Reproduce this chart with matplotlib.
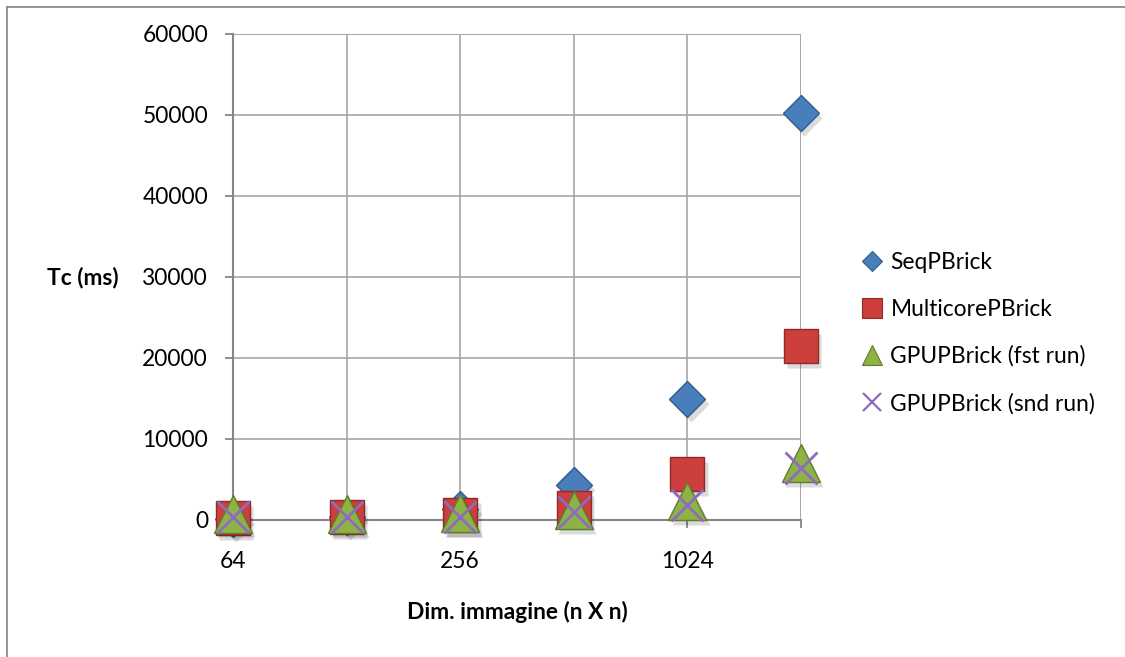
import matplotlib
matplotlib.use("Agg")
import matplotlib.pyplot as plt
from matplotlib.lines import Line2D
from matplotlib.transforms import ScaledTranslation

# Image sizes (n x n) and compute times in ms
sizes = ["64", "128", "256", "512", "1024", "2048"]
seq_pbrick = [100, 350, 1300, 4300, 14900, 50200]
multicore_pbrick = [190, 300, 560, 1400, 5600, 21450]
gpu_fst_run = [740, 740, 800, 1180, 2290, 6980]
gpu_snd_run = [350, 350, 350, 970, 1800, 6370]

series_labels = ["SeqPBrick", "MulticorePBrick", "GPUPBrick (fst run)", "GPUPBrick (snd run)"]
y_ticks = [0, 10000, 20000, 30000, 40000, 50000, 60000]

plt.rcParams["font.family"] = ["Lato", "DejaVu Sans"]

W, H, DPI = 1125, 657, 100
fig = plt.figure(figsize=(W / DPI, H / DPI), dpi=DPI)
fig.patch.set_facecolor("white")

# outer chart frame (left and top edges visible)
fig.add_artist(Line2D([7 / W, 7 / W], [0, 1 - 6.5 / H], transform=fig.transFigure,
                      color="#8c8c8c", lw=1.3))
fig.add_artist(Line2D([7 / W, 1], [1 - 6.5 / H, 1 - 6.5 / H], transform=fig.transFigure,
                      color="#8c8c8c", lw=1.3))

left, right = 233 / W, 801 / W
top, bottom = 1 - 34 / H, 1 - 519.5 / H
ax = fig.add_axes([left, bottom, right - left, top - bottom])

x = list(range(1, len(sizes) + 1))
ax.set_xlim(1, len(sizes))
ax.set_ylim(0, 60000)

grid_c = "#a6a6a6"
axis_c = "#868686"
ax.set_yticks(y_ticks)
ax.set_yticklabels([str(v) for v in y_ticks])
ax.set_xticks(x)
ax.set_xticklabels([s if i % 2 == 0 else "" for i, s in enumerate(sizes)])
ax.grid(True, color=grid_c, lw=1.2, zorder=0)
ax.set_axisbelow(True)
for side in ["top", "right"]:
    ax.spines[side].set_visible(False)
for side in ["left", "bottom"]:
    ax.spines[side].set_color(axis_c)
    ax.spines[side].set_linewidth(1.5)
# right edge and top edge shown by gridlines
ax.axvline(len(sizes), color=grid_c, lw=1.2, zorder=0)
ax.axhline(60000, color=grid_c, lw=1.2, zorder=0)

ax.tick_params(axis="y", direction="out", length=6, width=1.3, color=axis_c,
               pad=12, labelsize=16.4)
ax.tick_params(axis="x", direction="out", length=6, width=1.3, color=axis_c,
               pad=17, labelsize=16.4)

shadow = ax.transData + ScaledTranslation(2.5 / 72, -3.5 / 72, fig.dpi_scale_trans)

styles = [
    dict(marker="D", ms=18, mfc="#4a7ebb", mec="#2c5d96", mew=1.0),
    dict(marker="s", ms=25, mfc="#cc3f3c", mec="#8e2a28", mew=1.0),
    dict(marker="^", ms=27, mfc="#8db346", mec="#5f7d2c", mew=1.0),
    dict(marker="x", ms=23, mec="#8d6bbd", mew=2.0),
]
data = [seq_pbrick, multicore_pbrick, gpu_fst_run, gpu_snd_run]

z = 3
for vals, st in zip(data, styles):
    if st["marker"] != "x":
        ax.plot(x, vals, ls="none", marker=st["marker"], ms=st["ms"], mfc="black",
                mec="none", alpha=0.14, transform=shadow, zorder=z, clip_on=False)
    ax.plot(x, vals, ls="none", zorder=z + 1, clip_on=False, **st)
    z += 2

# legend
handles = []
for lab, st in zip(series_labels, styles):
    s = dict(st)
    s["ms"] = st["ms"] * 0.55
    s["mew"] = st["mew"] * 0.8
    handles.append(Line2D([], [], ls="none", label=lab, **s))
leg = fig.legend(handles=handles, loc="center left",
                 bbox_to_anchor=(862 / W, 1 - 333 / H), frameon=False,
                 fontsize=16.4, handlelength=0.9, handletextpad=0.35,
                 labelspacing=1.13, borderaxespad=0, borderpad=0)

fig.text(119 / W, 1 - 278 / H, "Tc (ms)", ha="right", va="center",
         fontsize=16.4, fontweight="bold")
fig.text(517.5 / W, 1 - 612 / H, "Dim. immagine (n X n)", ha="center", va="center",
         fontsize=16.4, fontweight="bold")

fig.savefig("out.png", dpi=DPI, facecolor="white")
